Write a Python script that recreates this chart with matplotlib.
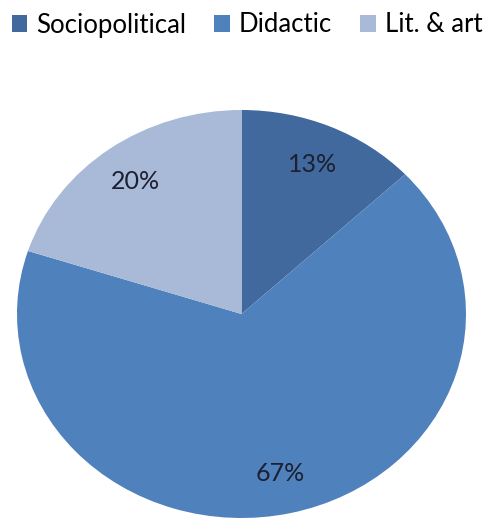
import matplotlib
matplotlib.use('Agg')
import matplotlib.pyplot as plt

# share of texts by category
categories = ['Sociopolitical', 'Didactic', 'Lit. & art']
shares = [13, 67, 20]
colors = ['#41699e', '#4f81bd', '#a8bad8']

plt.rcParams['font.family'] = ['Lato', 'DejaVu Sans']

fig = plt.figure(figsize=(4.87, 5.20), dpi=100)
ax = fig.add_axes([17 / 487, 2 / 520, 449 / 487, 408 / 520])
wedges, texts, autotexts = ax.pie(shares, colors=colors, startangle=90, counterclock=False,
                                  autopct='%1.0f%%', pctdistance=0.8,
                                  textprops={'fontsize': 18, 'color': '#1c2030'})
ax.set_aspect('auto')  # the pie is stretched a bit wider than tall
ax.set_xlim(-1, 1)
ax.set_ylim(-1, 1)

fig.legend(wedges, categories, loc='center', bbox_to_anchor=(0.507, 1 - 25 / 520), ncol=3,
           frameon=False, fontsize=18.5, handlelength=0.6, handleheight=0.6,
           handletextpad=0.35, columnspacing=1.1, borderaxespad=0, borderpad=0)

fig.savefig('out.png', dpi=100)
